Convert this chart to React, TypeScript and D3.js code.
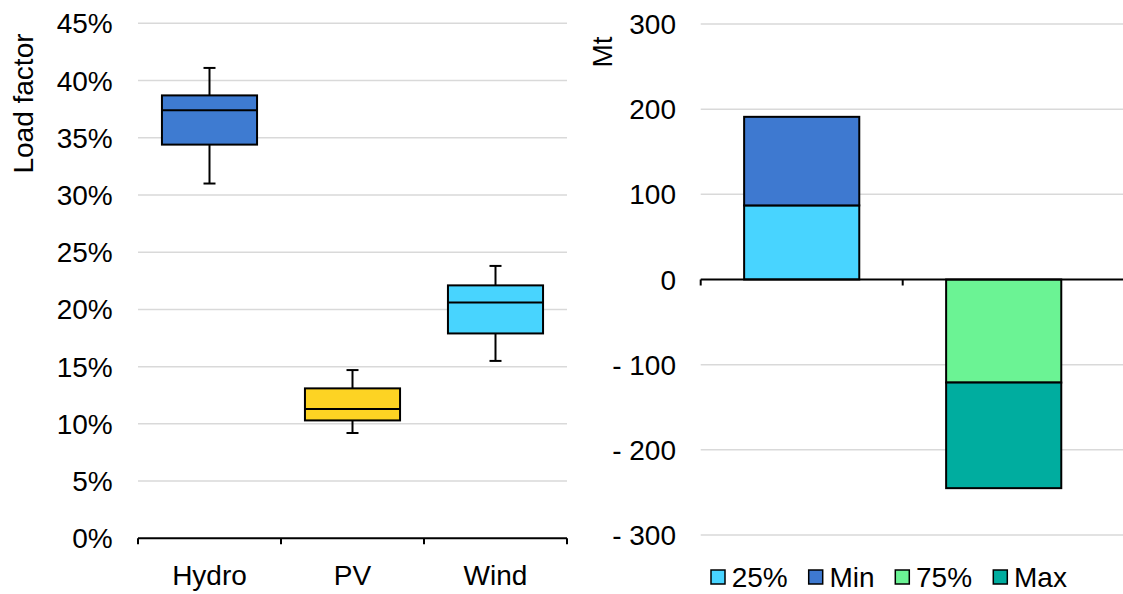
import React from "react";
import * as d3 from "d3";

const categories = ["Hydro", "PV", "Wind"];
const whiskerLow = [0.310, 0.092, 0.155];
const boxLow = [0.344, 0.103, 0.179];
const median = [0.374, 0.113, 0.206];
const boxHigh = [0.387, 0.131, 0.221];
const whiskerHigh = [0.411, 0.147, 0.238];
const boxColors = ["#3E7BD1", "#FDD323", "#48D4FE"];
const leftTicks = [0, 0.05, 0.1, 0.15, 0.2, 0.25, 0.3, 0.35, 0.4, 0.45];

const barGroups = ["A", "B"];
const seriesNames = ["25%", "Min", "75%", "Max"];
const seriesColors = ["#48D4FF", "#3E79D0", "#6BF394", "#00AD9F"];
const seriesValues = [
  [87, 0],
  [104, 0],
  [0, -121],
  [0, -124],
];
const rightTicks = [-300, -200, -100, 0, 100, 200, 300];

const FONT = "'Liberation Sans', Arial, sans-serif";
const FS = 28;
const SW = 2;

export default function App() {
  const lx = d3.scaleBand<string>().domain(categories).range([138, 567]);
  const ly = d3.scaleLinear().domain([0, 0.45]).range([538.3, 23.3]);
  const boxW = lx.bandwidth() * 0.665;

  const rx = d3.scaleBand<string>().domain(barGroups).range([700.7, 1104.7]);
  const ry = d3.scaleLinear().domain([-300, 300]).range([535, 24]);
  const barW = rx.bandwidth() * 0.57;

  const stacks: { s: number; g: number; y0: number; y1: number }[] = [];
  barGroups.forEach((g, gi) => {
    let pos = 0;
    let neg = 0;
    seriesValues.forEach((vals, si) => {
      const v = vals[gi];
      if (v === 0) return;
      if (v > 0) {
        stacks.push({ s: si, g: gi, y0: pos, y1: pos + v });
        pos += v;
      } else {
        stacks.push({ s: si, g: gi, y0: neg, y1: neg + v });
        neg += v;
      }
    });
  });

  const pct = d3.format(".0%");
  const rfmt = (v: number) => (v < 0 ? "- " + Math.abs(v) : String(v));

  const legendX = [711, 808.7, 895.3, 993.3];

  return (
    <svg width={1123} height={594} style={{ position: "absolute", left: 0, top: 0, background: "#fff" }} fontFamily={FONT}>
      <rect x={0} y={0} width={1123} height={594} fill="#fff" />
      {leftTicks.filter((t) => t > 0).map((t) => (
        <line key={"lg" + t} x1={138} x2={567} y1={ly(t)} y2={ly(t)} stroke="#D9D9D9" strokeWidth={1.5} />
      ))}
      {leftTicks.map((t) => (
        <text key={"lt" + t} x={112.7} y={ly(t)} dy="0.36em" textAnchor="end" fontSize={FS} fill="#000">
          {pct(t)}
        </text>
      ))}
      <text transform={`translate(33,103.5) rotate(-90)`} textAnchor="middle" fontSize={FS} fill="#000">
        Load factor
      </text>
      {categories.map((c, i) => {
        const cx = (lx(c) as number) + lx.bandwidth() / 2;
        return (
          <g key={c}>
            <line x1={cx} x2={cx} y1={ly(whiskerHigh[i])} y2={ly(boxHigh[i])} stroke="#000" strokeWidth={SW} />
            <line x1={cx} x2={cx} y1={ly(boxLow[i])} y2={ly(whiskerLow[i])} stroke="#000" strokeWidth={SW} />
            <line x1={cx - 6} x2={cx + 6} y1={ly(whiskerHigh[i])} y2={ly(whiskerHigh[i])} stroke="#000" strokeWidth={SW} />
            <line x1={cx - 6} x2={cx + 6} y1={ly(whiskerLow[i])} y2={ly(whiskerLow[i])} stroke="#000" strokeWidth={SW} />
            <rect x={cx - boxW / 2} y={ly(boxHigh[i])} width={boxW} height={ly(boxLow[i]) - ly(boxHigh[i])} fill={boxColors[i]} stroke="#000" strokeWidth={SW} />
            <line x1={cx - boxW / 2} x2={cx + boxW / 2} y1={ly(median[i])} y2={ly(median[i])} stroke="#000" strokeWidth={SW} />
            <text x={cx} y={585} textAnchor="middle" fontSize={FS} fill="#000">{c}</text>
          </g>
        );
      })}
      <line x1={138} x2={567} y1={ly(0)} y2={ly(0)} stroke="#000" strokeWidth={2} />
      {[...categories.map((c) => lx(c) as number), 567].map((x, i) => (
        <line key={"ltk" + i} x1={x} x2={x} y1={ly(0)} y2={ly(0) + 6} stroke="#000" strokeWidth={2} />
      ))}

      {rightTicks.filter((t) => t !== 0).map((t) => (
        <line key={"rg" + t} x1={700.7} x2={1123} y1={ry(t)} y2={ry(t)} stroke="#D9D9D9" strokeWidth={1.5} />
      ))}
      {rightTicks.map((t) => (
        <text key={"rt" + t} x={676} y={ry(t)} dy="0.36em" textAnchor="end" fontSize={FS} fill="#000">
          {rfmt(t)}
        </text>
      ))}
      <text transform={`translate(612,52) rotate(-90)`} textAnchor="middle" fontSize={FS} fill="#000">
        Mt
      </text>
      {stacks.map((d, i) => {
        const cx = (rx(barGroups[d.g]) as number) + rx.bandwidth() / 2;
        const top = Math.min(ry(d.y0), ry(d.y1));
        const h = Math.abs(ry(d.y1) - ry(d.y0));
        return (
          <rect key={"st" + i} x={cx - barW / 2} y={top} width={barW} height={h} fill={seriesColors[d.s]} stroke="#000" strokeWidth={SW} />
        );
      })}
      <line x1={700.7} x2={1123} y1={ry(0)} y2={ry(0)} stroke="#000" strokeWidth={2} />
      {barGroups.map((g, i) => (
        <line key={"rtk" + i} x1={rx(g) as number} x2={rx(g) as number} y1={ry(0)} y2={ry(0) + 6} stroke="#000" strokeWidth={2} />
      ))}

      {seriesNames.map((n, i) => (
        <g key={n}>
          <rect x={legendX[i]} y={570} width={14} height={14} fill={seriesColors[i]} stroke="#000" strokeWidth={1.5} />
          <text x={legendX[i] + 20.7} y={587} fontSize={FS} fill="#000">{n}</text>
        </g>
      ))}
    </svg>
  );
}
